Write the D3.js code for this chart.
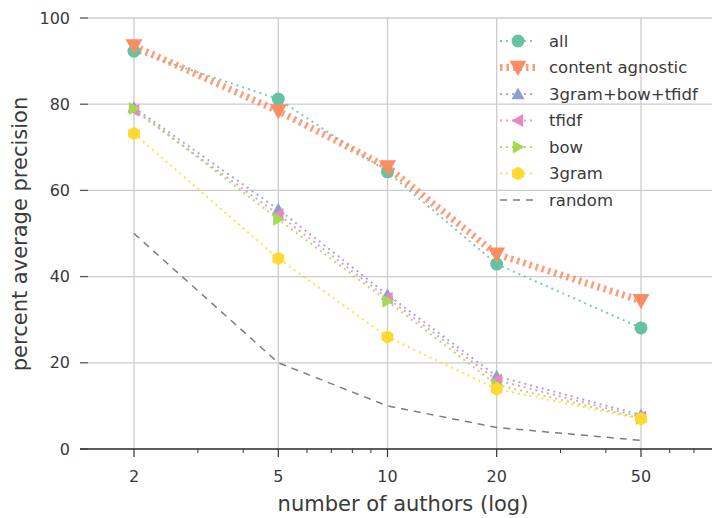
<!DOCTYPE html>
<html><head><meta charset="utf-8">
<script src="https://cdn.jsdelivr.net/npm/d3@7"></script>
<style>body{margin:0;background:#fff;} text{font-family:"DejaVu Sans",sans-serif;}</style>
</head><body>
<svg id="c" width="712" height="518"></svg>
<script>
const authors = [2, 5, 10, 20, 50];
const seriesNames = ["all", "content agnostic", "3gram+bow+tfidf", "tfidf", "bow", "3gram", "random"];
const allVals = [92.3, 81.2, 64.3, 42.9, 28.1];
const agnosticVals = [93.5, 78.4, 65.4, 45.2, 34.4];
const comboVals = [79.2, 55.6, 35.8, 16.9, 7.9];
const tfidfVals = [78.6, 54.4, 35.0, 16.0, 7.4];
const bowVals = [79.0, 53.3, 34.3, 14.9, 7.1];
const gramVals = [73.2, 44.2, 26.0, 13.9, 7.0];
const randomVals = [50, 20, 10, 5, 2];
const yTicks = [0, 20, 40, 60, 80, 100];
const xTicks = [2, 5, 10, 20, 50];
const xMinor = [3, 4, 6, 7, 8, 9, 30, 40, 60, 70];

const svg = d3.select("#c");
const x = d3.scaleLog().domain([2, 50]).range([134, 641]);
const y = d3.scaleLinear().domain([0, 100]).range([449, 18]);
const L = 80, R = 712;
const txt = "#3a3a3a";

// grid
svg.append("g").selectAll("line").data(yTicks).join("line")
  .attr("x1", 88).attr("x2", R).attr("y1", d => y(d)).attr("y2", d => y(d))
  .attr("stroke", "#cccccc").attr("stroke-width", 1.3);
svg.append("g").selectAll("line").data(xTicks).join("line")
  .attr("x1", d => x(d)).attr("x2", d => x(d)).attr("y1", y(100)).attr("y2", y(0))
  .attr("stroke", "#cccccc").attr("stroke-width", 1.3);
// y ticks
svg.append("g").selectAll("line").data(yTicks).join("line")
  .attr("x1", L).attr("x2", 88).attr("y1", d => y(d)).attr("y2", d => y(d))
  .attr("stroke", "#555").attr("stroke-width", 1.3);
svg.append("g").selectAll("text").data(yTicks).join("text")
  .attr("x", 70).attr("y", d => y(d) + 5.5).attr("text-anchor", "end")
  .attr("font-size", 16).attr("fill", txt).text(d => d);
// x axis
svg.append("line").attr("x1", L).attr("x2", R).attr("y1", y(0)).attr("y2", y(0))
  .attr("stroke", "#333").attr("stroke-width", 1.5);
svg.append("g").selectAll("line").data(xTicks).join("line")
  .attr("x1", d => x(d)).attr("x2", d => x(d)).attr("y1", y(0)).attr("y2", y(0) + 8)
  .attr("stroke", "#333").attr("stroke-width", 1.2);
svg.append("g").selectAll("line").data(xMinor).join("line")
  .attr("x1", d => x(d)).attr("x2", d => x(d)).attr("y1", y(0)).attr("y2", y(0) + 4)
  .attr("stroke", "#333").attr("stroke-width", 1);
svg.append("g").selectAll("text").data(xTicks).join("text")
  .attr("x", d => x(d)).attr("y", 482).attr("text-anchor", "middle")
  .attr("font-size", 16).attr("fill", txt).text(d => d);
svg.append("text").attr("x", 403).attr("y", 511).attr("text-anchor", "middle")
  .attr("font-size", 21).attr("fill", txt).text("number of authors (log)");
svg.append("text").attr("transform", "translate(27,234) rotate(-90)").attr("text-anchor", "middle")
  .attr("font-size", 21).attr("fill", txt).text("percent average precision");

function tri(dir, s) {
  const pts = {
    down: [[-s, -s*0.8], [s, -s*0.8], [0, s*1.0]],
    up: [[-s, s*0.8], [s, s*0.8], [0, -s*1.0]],
    left: [[s*0.8, -s], [s*0.8, s], [-s*1.0, 0]],
    right: [[-s*0.8, -s], [-s*0.8, s], [s*1.0, 0]]
  }[dir];
  return "M" + pts.map(p => p.join(",")).join("L") + "Z";
}
function circ(r) { return `M${-r},0A${r},${r} 0 1,0 ${r},0A${r},${r} 0 1,0 ${-r},0Z`; }
function hex(r) {
  const p = d3.range(6).map(i => { const a = Math.PI / 6 + i * Math.PI / 3; return [r * Math.cos(a), r * Math.sin(a)]; });
  return "M" + p.map(q => q.map(v => v.toFixed(2)).join(",")).join("L") + "Z";
}

const styles = [
  {vals: allVals, color: "#66c2a5", w: 2, dash: "2,4", marker: circ(6.5)},
  {vals: agnosticVals, color: "#fc8d62", w: 7, dash: "2.5,4", marker: tri("down", 8.5)},
  {vals: comboVals, color: "#8da0cb", w: 2, dash: "2,4", marker: tri("up", 6.5)},
  {vals: tfidfVals, color: "#e78ac3", w: 2, dash: "2,4", marker: tri("left", 6.5)},
  {vals: bowVals, color: "#a6d854", w: 2, dash: "2,4", marker: tri("right", 6.5)},
  {vals: gramVals, color: "#ffd92f", w: 2, dash: "2,4", marker: hex(6.8)},
  {vals: randomVals, color: "#666666", w: 1.5, dash: "7,6", marker: null}
];

const line = d3.line().x(d => x(d[0])).y(d => y(d[1]));
styles.forEach(s => {
  const pts = authors.map((a, i) => [a, s.vals[i]]);
  svg.append("path").attr("d", line(pts)).attr("fill", "none")
    .attr("stroke", s.color).attr("stroke-width", s.w).attr("stroke-dasharray", s.dash)
    .attr("opacity", s.marker ? 0.85 : 0.85);
  if (s.marker) {
    svg.append("g").selectAll("path").data(pts).join("path")
      .attr("transform", d => `translate(${x(d[0])},${y(d[1])})`)
      .attr("d", s.marker).attr("fill", s.color);
  }
});

// legend
const lg = svg.append("g");
seriesNames.forEach((n, i) => {
  const s = styles[i];
  const ly = 41 + i * 26.5;
  lg.append("line").attr("x1", 500).attr("x2", 536).attr("y1", ly).attr("y2", ly)
    .attr("stroke", s.color).attr("stroke-width", s.w).attr("stroke-dasharray", s.marker ? s.dash : "7,6")
    .attr("opacity", 0.85);
  if (s.marker) lg.append("path").attr("transform", `translate(518,${ly})`).attr("d", s.marker).attr("fill", s.color);
  lg.append("text").attr("x", 549).attr("y", ly + 5.5).attr("font-size", 16.5).attr("fill", txt).text(n);
});
</script>
</body></html>
